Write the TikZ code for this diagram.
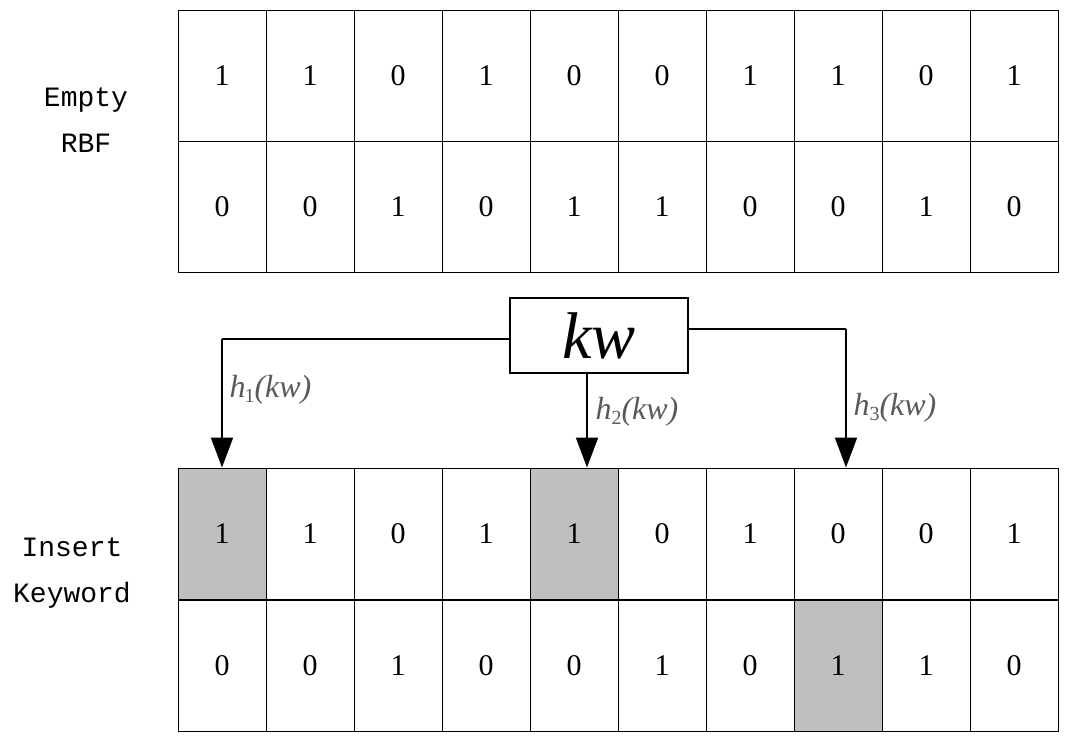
\documentclass[tikz,border=0pt]{standalone}
\usepackage{fontspec}
\setmainfont{Liberation Serif}
\newfontfamily\monof{Liberation Mono}
\usetikzlibrary{arrows.meta}
\begin{document}
\begin{tikzpicture}[x=1pt,y=-1pt,
  cellbox/.style={draw,line width=1pt,minimum width=88pt,minimum height=131pt,inner sep=0pt,font=\fontsize{30}{30}\selectfont},
  hit/.style={fill=black!25},
  lbl/.style={font=\monof\fontsize{28}{46}\selectfont,align=center},
  hl/.style={font=\fontsize{32}{32}\selectfont\itshape,text=black!65,anchor=west},
  arr/.style={line width=2pt,-{Triangle[length=30pt,width=22pt]}}]
\useasboundingbox (0,0) rectangle (1069,747);
\def\topA{1,1,0,1,0,0,1,1,0,1}
\def\topB{0,0,1,0,1,1,0,0,1,0}
\def\botA{1,1,0,1,1,0,1,0,0,1}
\def\botB{0,0,1,0,0,1,0,1,1,0}
\foreach \v [count=\i] in \topA { \node[cellbox] (ta\i) at ({178+88*(\i-0.5)},75.5) {\v}; }
\foreach \v [count=\i] in \topB { \node[cellbox] (tb\i) at ({178+88*(\i-0.5)},206.5) {\v}; }
\foreach \v [count=\i] in \botA {
  \ifnum\i=1 \def\st{hit}\else\ifnum\i=5 \def\st{hit}\else\def\st{}\fi\fi
  \node[cellbox,\st] (ba\i) at ({178+88*(\i-0.5)},533.5) {\v}; }
\foreach \v [count=\i] in \botB {
  \ifnum\i=8 \def\st{hit}\else\def\st{}\fi
  \node[cellbox,\st] (bb\i) at ({178+88*(\i-0.5)},666) {\v}; }
\node[lbl] (l1) at (86,120) {Empty\\RBF};
\node[lbl] (l2) at (72,573) {Insert\\Keyword};
\node[draw,line width=2pt,minimum width=178pt,minimum height=75pt,inner sep=0pt,font=\fontsize{66}{66}\selectfont\itshape] (kw) at (599,335.5) {kw};
\coordinate (c1) at (222,339);
\coordinate (c3) at (846,329);
\draw[line width=2pt] (kw.west|-c1) -- (c1);
\draw[arr] (c1) -- (c1|-ba1.north);
\draw[arr] (kw.south-|587,0) -- (587,0|-ba5.north);
\draw[line width=2pt] (kw.east|-c3) -- (c3);
\draw[arr] (c3) -- (c3|-ba8.north);
\node[hl] (h1) at (226,390) {h\kern-1pt\raisebox{-5pt}{\fontsize{20}{20}\selectfont\upshape 1}(kw)};
\node[hl] (h2) at (592,412) {h\raisebox{-5pt}{\fontsize{20}{20}\selectfont\upshape 2}(kw)};
\node[hl] (h3) at (850,408) {h\raisebox{-5pt}{\fontsize{20}{20}\selectfont\upshape 3}(kw)};
\end{tikzpicture}
\end{document}
